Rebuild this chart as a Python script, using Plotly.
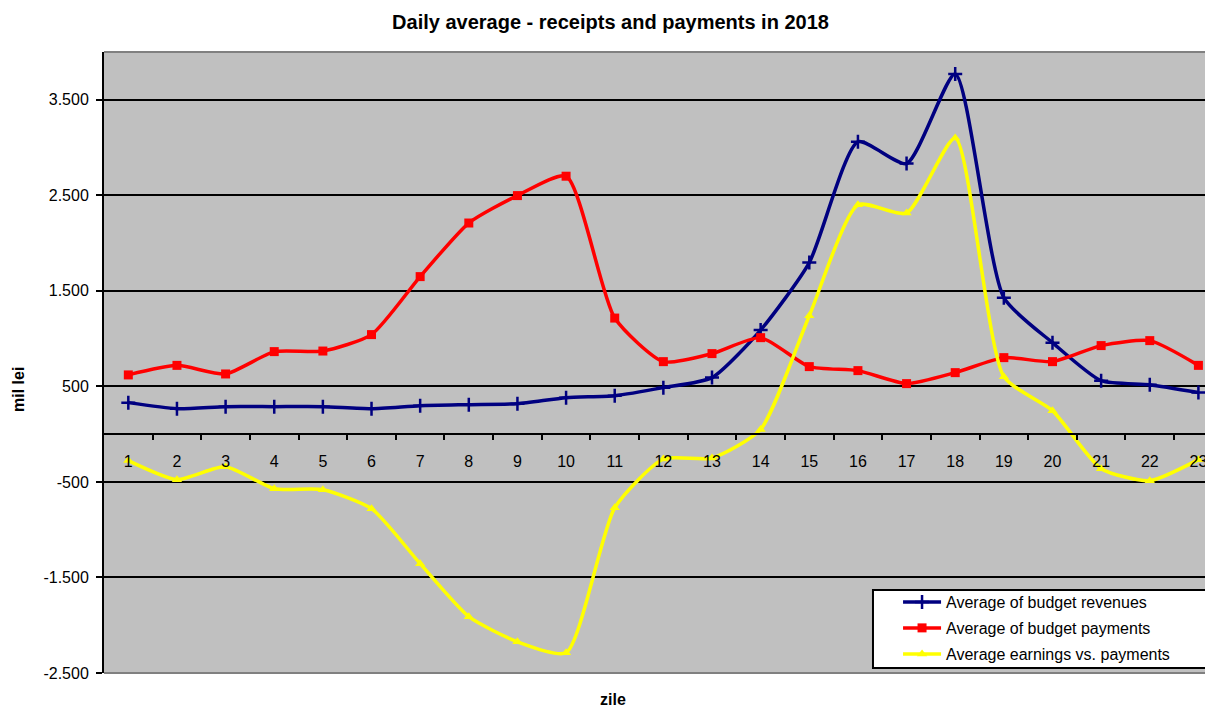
import plotly.graph_objects as go

days = list(range(1, 24))
day_labels = [str(d) for d in days]

revenues = [330, 267, 288, 288, 288, 267, 298, 309, 319, 382, 403, 487, 592,
            1090, 1796, 3060, 2832, 3770, 1429, 958, 560, 518, 435]
payments = [620, 720, 630, 864, 870, 1042, 1649, 2210, 2497, 2700, 1215, 759, 843,
            1010, 707, 665, 529, 644, 801, 759, 927, 979, 720]
earnings = [-277, -476, -340, -571, -581, -780, -1356, -1911, -2173, -2288, -770, -260, -250,
            50, 1240, 2400, 2315, 3100, 602, 246, -361, -487, -267]

ytick_vals = [-2500, -1500, -500, 500, 1500, 2500, 3500]
ytick_text = ["-2.500", "-1.500", "-500", "500", "1.500", "2.500", "3.500"]

names = ["Average of budget revenues", "Average of budget payments",
         "Average earnings vs. payments"]

FONT = "Liberation Sans, Arial, sans-serif"

# the page shows the figure offset by 8px (body margin); size accordingly
W, H = 1205, 701
OFF = 8
PLOT_H = 621

fig = go.Figure()
fig.add_trace(go.Scatter(
    x=days, y=revenues, name=names[0], mode="lines+markers",
    line=dict(color="#000080", width=3.5, shape="spline", smoothing=0.6),
    marker=dict(symbol="cross-thin", size=10, color="#000080",
                line=dict(width=2.5, color="#000080")),
    legend="legend"))
fig.add_trace(go.Scatter(
    x=days, y=payments, name=names[1], mode="lines+markers",
    line=dict(color="#FF0000", width=3.5, shape="spline", smoothing=0.6),
    marker=dict(symbol="square", size=9, color="#FF0000"),
    legend="legend2"))
fig.add_trace(go.Scatter(
    x=days, y=earnings, name=names[2], mode="lines+markers",
    line=dict(color="#FFFF00", width=3.5, shape="spline", smoothing=0.6),
    marker=dict(symbol="triangle-up", size=9, color="#FFFF00"),
    legend="legend3"))

leg_common = dict(bgcolor="rgba(0,0,0,0)", borderwidth=0, xanchor="left",
                  yanchor="middle", itemwidth=38,
                  font=dict(family=FONT, size=16, color="black"))
lx = 0.716
fig.update_layout(
    legend=dict(x=lx, y=0.1143, **leg_common),
    legend2=dict(x=lx, y=0.0725, **leg_common),
    legend3=dict(x=lx, y=0.0306, **leg_common),
)

fig.update_layout(
    width=W, height=H,
    margin=dict(l=104 - OFF, r=0, t=52 - OFF, b=H - (52 - OFF) - PLOT_H),
    paper_bgcolor="white",
    plot_bgcolor="#C0C0C0",
    showlegend=True,
    title=dict(text="<b>Daily average - receipts and payments in 2018</b>",
               x=0.5, xref="container", xanchor="center",
               y=1 - (22 - OFF) / H, yref="container", yanchor="middle",
               font=dict(family=FONT, size=20, color="black")),
    xaxis=dict(
        range=[0.5, 23.3], tickvals=days, ticktext=day_labels,
        ticks="", showgrid=False, zeroline=False,
        showline=True, linecolor="black", linewidth=2,
        anchor="free", position=2500 / 6500,
        ticklabelstandoff=13,
        tickfont=dict(family=FONT, size=16, color="black"),
        minor=dict(tickvals=[d + 0.5 for d in days[:-1]], ticks="outside",
                   ticklen=5, tickwidth=2, tickcolor="black", showgrid=False),
    ),
    yaxis=dict(
        range=[-2500, 4000], tickvals=ytick_vals, ticktext=ytick_text,
        showgrid=True, gridcolor="black", gridwidth=2,
        zeroline=False, showline=True, linecolor="black", linewidth=2,
        ticks="outside", ticklen=6, tickwidth=2, tickcolor="black",
        ticklabelstandoff=4,
        tickfont=dict(family=FONT, size=16, color="black"),
    ),
    shapes=[
        dict(type="line", xref="paper", yref="paper", x0=0, x1=1, y0=1, y1=1,
             line=dict(color="#808080", width=2), layer="above"),
        dict(type="line", xref="paper", yref="paper", x0=0, x1=1, y0=0, y1=0,
             line=dict(color="#808080", width=2), layer="above"),
        dict(type="rect", xref="paper", yref="paper", x0=0.6934, x1=0.9973,
             y0=0.008, y1=0.1337, fillcolor="white",
             line=dict(color="black", width=2), layer="above"),
    ],
    annotations=[
        dict(text="<b>mil lei</b>", textangle=-90, xref="paper", yref="paper",
             x=(18 - 104) / 1109, y=(673 - 390) / 621, xanchor="center",
             yanchor="middle", showarrow=False,
             font=dict(family=FONT, size=16, color="black")),
        dict(text="<b>zile</b>", xref="paper", yref="paper",
             x=(613 - 104) / 1109, y=(673 - 699) / 621, xanchor="center",
             yanchor="middle", showarrow=False,
             font=dict(family=FONT, size=16, color="black")),
    ],
)

fig.write_html("out.html")
